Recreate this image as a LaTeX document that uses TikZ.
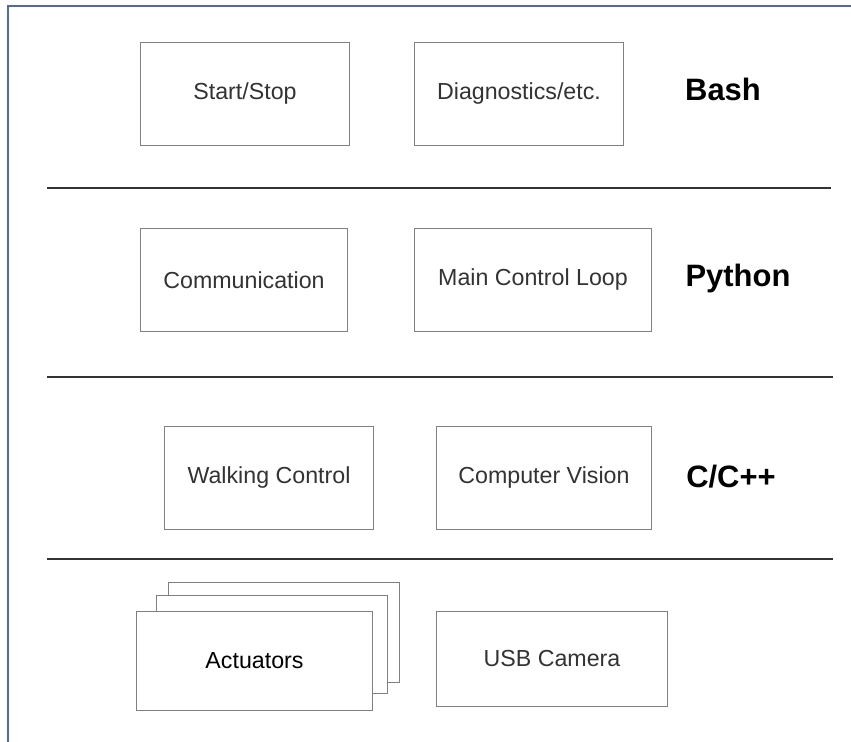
\documentclass[tikz,border=0pt]{standalone}
\usepackage{fontspec}
\setmainfont{Liberation Sans}
\definecolor{framecol}{RGB}{79,108,158}
\definecolor{boxcol}{RGB}{128,128,128}
\definecolor{txtcol}{RGB}{51,51,51}
\tikzset{
  layerbox/.style={draw=boxcol, line width=0.7pt, fill=white, text=txtcol,
    minimum height=2.55cm, inner sep=0pt,
    font=\fontsize{16.5}{20}\selectfont},
  langlabel/.style={font=\fontsize{22}{26}\selectfont\bfseries, text=black},
  sepline/.style={draw=black!80, line width=1pt}
}

\begin{document}
\begin{tikzpicture}[x=0.025cm,y=-0.025cm]
      \useasboundingbox (0,0) rectangle (851,742);

      % frame
      \draw[framecol, line width=1pt] (851,6) -- (8,6) -- (8,742);

      % bash layer
      \node[layerbox, minimum width=5.2cm] (startstop) at (245,94) {Start/Stop};
      \node[layerbox, minimum width=5.2cm] (diag) at (519,94) {Diagnostics/etc.};
      \node[langlabel] (bash) at (723,89) {Bash};

      \coordinate (s1a) at (47,188);
      \coordinate (s1b) at (831,188);
      \draw[sepline] (s1a) -- (s1b);

      % python layer
      \node[layerbox, minimum width=5.15cm] (comm) at (244,280) {Communication};
      \node[layerbox, minimum width=5.9cm] (mainloop) at (533,280) {Main Control Loop};
      \node[langlabel] (python) at (738,279) {Python};

      \coordinate (s2a) at (47,377);
      \coordinate (s2b) at (833,377);
      \draw[sepline] (s2a) -- (s2b);

      % c/c++ layer
      \node[layerbox, minimum width=5.2cm] (walking) at (269,478) {Walking Control};
      \node[layerbox, minimum width=5.35cm] (vision) at (544,478) {Computer Vision};
      \node[langlabel] (cpp) at (731,477) {C/C++};

      \coordinate (s3a) at (47,559);
      \coordinate (s3b) at (833,559);
      \draw[sepline] (s3a) -- (s3b);

      % hardware
      \node[layerbox, minimum width=5.75cm, minimum height=2.475cm] (act3) at (284,632.5) {};
      \node[layerbox, minimum width=5.775cm, minimum height=2.425cm] (act2) at (272,644.5) {};
      \node[layerbox, minimum width=5.875cm, minimum height=2.45cm, text=black] (act) at (254.5,661) {Actuators};
      \node[layerbox, minimum width=5.775cm, minimum height=2.375cm] (usb) at (552,659) {USB Camera};
\end{tikzpicture}
\end{document}
